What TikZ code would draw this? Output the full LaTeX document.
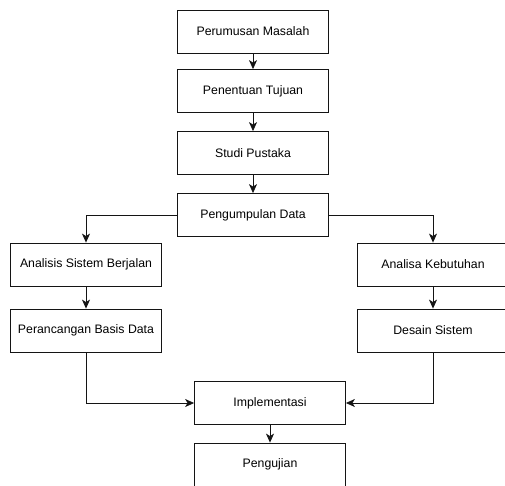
\documentclass[tikz,border=0pt]{standalone}
\usepackage{fontspec}
\setmainfont{Liberation Sans}
\usetikzlibrary{arrows.meta, positioning}
\definecolor{mydark}{RGB}{20,20,20}
\tikzset{
  stepbox/.style={rectangle, draw=mydark, fill=white,
    minimum width=151pt, minimum height=43pt, inner sep=0pt,
    font=\fontsize{12.3}{14}\selectfont, line width=0.8pt},
  arrow/.style={-{Stealth[length=9pt, width=8pt, inset=2.5pt]}, line width=0.8pt, color=mydark}
}
\begin{document}
\begin{tikzpicture}[x=1pt, y=-1pt]
  \useasboundingbox (0,0) rectangle (505,486);

  % Main column
  \node[stepbox] (rumus) at (253, 31.5) {Perumusan Masalah};
  \node[stepbox] (tujuan) at (253, 91) {Penentuan Tujuan};
  \node[stepbox] (pustaka) at (253, 153) {Studi Pustaka};
  \node[stepbox] (data) at (253, 215) {Pengumpulan Data};

  % Left branch
  \node[stepbox] (analisis) at (86, 264.5) {Analisis Sistem Berjalan};
  \node[stepbox] (basis) at (86, 330.5) {Perancangan Basis Data};

  % Right branch
  \node[stepbox] (kebutuhan) at (433, 264.5) {Analisa Kebutuhan};
  \node[stepbox] (desain) at (433, 330.5) {Desain Sistem};

  % Bottom
  \node[stepbox] (impl) at (270, 403) {Implementasi};
  \node[stepbox] (uji) at (270, 464.5) {Pengujian};

  % Connectors
  \draw[arrow] (rumus) -- (tujuan);
  \draw[arrow] (tujuan) -- (pustaka);
  \draw[arrow] (pustaka) -- (data);
  \draw[arrow] (data.west) -| (analisis.north);
  \draw[arrow] (data.east) -| (kebutuhan.north);
  \draw[arrow] (analisis) -- (basis);
  \draw[arrow] (kebutuhan) -- (desain);
  \draw[arrow] (basis.south) |- (impl.west);
  \draw[arrow] (desain.south) |- (impl.east);
  \draw[arrow] (impl.south -| uji.north) -- (uji.north);
\end{tikzpicture}
\end{document}
